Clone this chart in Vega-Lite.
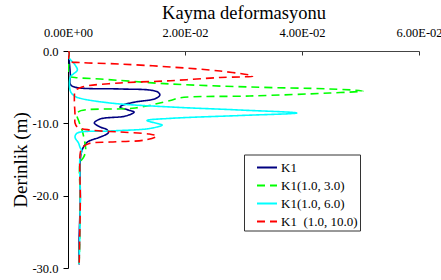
{
  "$schema": "https://vega.github.io/schema/vega-lite/v6.json",
  "autosize": "none",
  "width": 351,
  "height": 217,
  "padding": {"left": 68, "top": 51, "right": 22, "bottom": 12},
  "background": "white",
  "config": {"view": {"stroke": null}, "font": "Liberation Serif"},
  "data": {"values": [
    {"s":"K1","i":1,"x":0.0001,"d":0},
    {"s":"K1","i":2,"x":0.0002,"d":-1.2},
    {"s":"K1","i":3,"x":0.0004,"d":-3.3},
    {"s":"K1","i":4,"x":0.0004,"d":-4.6},
    {"s":"K1","i":5,"x":0.0012,"d":-5.0},
    {"s":"K1","i":6,"x":0.0089,"d":-5.25},
    {"s":"K1","i":7,"x":0.0140,"d":-5.4},
    {"s":"K1","i":8,"x":0.0154,"d":-5.7},
    {"s":"K1","i":9,"x":0.0157,"d":-6.1},
    {"s":"K1","i":10,"x":0.0149,"d":-6.6},
    {"s":"K1","i":11,"x":0.0115,"d":-7.05},
    {"s":"K1","i":12,"x":0.0093,"d":-7.5},
    {"s":"K1","i":13,"x":0.0089,"d":-7.75},
    {"s":"K1","i":14,"x":0.0103,"d":-8.15},
    {"s":"K1","i":15,"x":0.0113,"d":-8.45},
    {"s":"K1","i":16,"x":0.0098,"d":-9.0},
    {"s":"K1","i":17,"x":0.0055,"d":-9.4},
    {"s":"K1","i":18,"x":0.0045,"d":-9.95},
    {"s":"K1","i":19,"x":0.0055,"d":-10.5},
    {"s":"K1","i":20,"x":0.0067,"d":-10.9},
    {"s":"K1","i":21,"x":0.0069,"d":-11.3},
    {"s":"K1","i":22,"x":0.0055,"d":-11.9},
    {"s":"K1","i":23,"x":0.0033,"d":-12.6},
    {"s":"K1","i":24,"x":0.0024,"d":-13.7},
    {"s":"K1","i":25,"x":0.0021,"d":-15.1},
    {"s":"K1","i":26,"x":0.0021,"d":-20.6},
    {"s":"K1","i":27,"x":0.0019,"d":-26.1},
    {"s":"K1","i":28,"x":0.0019,"d":-29.5},

    {"s":"K1(1.0, 3.0)","i":1,"x":0.0001,"d":0},
    {"s":"K1(1.0, 3.0)","i":2,"x":0.0002,"d":-0.97},
    {"s":"K1(1.0, 3.0)","i":3,"x":0.0002,"d":-3.46},
    {"s":"K1(1.0, 3.0)","i":4,"x":0.0012,"d":-3.66},
    {"s":"K1(1.0, 3.0)","i":5,"x":0.0055,"d":-3.87},
    {"s":"K1(1.0, 3.0)","i":6,"x":0.0175,"d":-4.56},
    {"s":"K1(1.0, 3.0)","i":7,"x":0.0311,"d":-4.98},
    {"s":"K1(1.0, 3.0)","i":8,"x":0.0447,"d":-5.25},
    {"s":"K1(1.0, 3.0)","i":9,"x":0.0504,"d":-5.53},
    {"s":"K1(1.0, 3.0)","i":10,"x":0.0447,"d":-5.81},
    {"s":"K1(1.0, 3.0)","i":11,"x":0.0311,"d":-6.22},
    {"s":"K1(1.0, 3.0)","i":12,"x":0.0192,"d":-6.46},
    {"s":"K1(1.0, 3.0)","i":13,"x":0.0175,"d":-6.84},
    {"s":"K1(1.0, 3.0)","i":14,"x":0.0115,"d":-7.88},
    {"s":"K1(1.0, 3.0)","i":15,"x":0.0016,"d":-8.53},
    {"s":"K1(1.0, 3.0)","i":16,"x":0.0019,"d":-9.82},
    {"s":"K1(1.0, 3.0)","i":17,"x":0.0024,"d":-10.92},
    {"s":"K1(1.0, 3.0)","i":18,"x":0.0028,"d":-12.3},
    {"s":"K1(1.0, 3.0)","i":19,"x":0.0030,"d":-13.27},
    {"s":"K1(1.0, 3.0)","i":20,"x":0.0030,"d":-13.96},
    {"s":"K1(1.0, 3.0)","i":21,"x":0.0026,"d":-14.79},
    {"s":"K1(1.0, 3.0)","i":22,"x":0.0021,"d":-15.35},
    {"s":"K1(1.0, 3.0)","i":23,"x":0.0021,"d":-20.6},
    {"s":"K1(1.0, 3.0)","i":24,"x":0.0020,"d":-26.1},
    {"s":"K1(1.0, 3.0)","i":25,"x":0.0019,"d":-29.45},

    {"s":"K1(1.0, 6.0)","i":1,"x":0.0001,"d":0},
    {"s":"K1(1.0, 6.0)","i":2,"x":0.0002,"d":-0.97},
    {"s":"K1(1.0, 6.0)","i":3,"x":0.0011,"d":-1.8},
    {"s":"K1(1.0, 6.0)","i":4,"x":0.0016,"d":-2.63},
    {"s":"K1(1.0, 6.0)","i":5,"x":0.0009,"d":-3.18},
    {"s":"K1(1.0, 6.0)","i":6,"x":0.0004,"d":-3.59},
    {"s":"K1(1.0, 6.0)","i":7,"x":0.0004,"d":-5.53},
    {"s":"K1(1.0, 6.0)","i":8,"x":0.0011,"d":-6.22},
    {"s":"K1(1.0, 6.0)","i":9,"x":0.0019,"d":-6.5},
    {"s":"K1(1.0, 6.0)","i":10,"x":0.0072,"d":-7.19},
    {"s":"K1(1.0, 6.0)","i":11,"x":0.0175,"d":-7.74},
    {"s":"K1(1.0, 6.0)","i":12,"x":0.0294,"d":-8.16},
    {"s":"K1(1.0, 6.0)","i":13,"x":0.0391,"d":-8.57},
    {"s":"K1(1.0, 6.0)","i":14,"x":0.0294,"d":-8.92},
    {"s":"K1(1.0, 6.0)","i":15,"x":0.0178,"d":-9.3},
    {"s":"K1(1.0, 6.0)","i":16,"x":0.0135,"d":-9.61},
    {"s":"K1(1.0, 6.0)","i":17,"x":0.0149,"d":-9.95},
    {"s":"K1(1.0, 6.0)","i":18,"x":0.0161,"d":-10.23},
    {"s":"K1(1.0, 6.0)","i":19,"x":0.0140,"d":-10.71},
    {"s":"K1(1.0, 6.0)","i":20,"x":0.0072,"d":-11.06},
    {"s":"K1(1.0, 6.0)","i":21,"x":0.0016,"d":-11.34},
    {"s":"K1(1.0, 6.0)","i":22,"x":0.0012,"d":-11.89},
    {"s":"K1(1.0, 6.0)","i":23,"x":0.0018,"d":-12.72},
    {"s":"K1(1.0, 6.0)","i":24,"x":0.0021,"d":-13.41},
    {"s":"K1(1.0, 6.0)","i":25,"x":0.0024,"d":-13.83},
    {"s":"K1(1.0, 6.0)","i":26,"x":0.0021,"d":-14.38},
    {"s":"K1(1.0, 6.0)","i":27,"x":0.0021,"d":-20.6},
    {"s":"K1(1.0, 6.0)","i":28,"x":0.0020,"d":-26.1},
    {"s":"K1(1.0, 6.0)","i":29,"x":0.0019,"d":-29.45},

    {"s":"K1\u00a0 (1.0, 10.0)","i":1,"x":0.0001,"d":0},
    {"s":"K1\u00a0 (1.0, 10.0)","i":2,"x":0.0002,"d":-0.28},
    {"s":"K1\u00a0 (1.0, 10.0)","i":3,"x":0.0002,"d":-1.38},
    {"s":"K1\u00a0 (1.0, 10.0)","i":4,"x":0.0021,"d":-1.59},
    {"s":"K1\u00a0 (1.0, 10.0)","i":5,"x":0.0089,"d":-1.8},
    {"s":"K1\u00a0 (1.0, 10.0)","i":6,"x":0.0175,"d":-2.21},
    {"s":"K1\u00a0 (1.0, 10.0)","i":7,"x":0.0260,"d":-2.77},
    {"s":"K1\u00a0 (1.0, 10.0)","i":8,"x":0.0316,"d":-3.46},
    {"s":"K1\u00a0 (1.0, 10.0)","i":9,"x":0.0260,"d":-3.66},
    {"s":"K1\u00a0 (1.0, 10.0)","i":10,"x":0.0175,"d":-4.11},
    {"s":"K1\u00a0 (1.0, 10.0)","i":11,"x":0.0089,"d":-4.42},
    {"s":"K1\u00a0 (1.0, 10.0)","i":12,"x":0.0024,"d":-4.98},
    {"s":"K1\u00a0 (1.0, 10.0)","i":13,"x":0.0012,"d":-5.53},
    {"s":"K1\u00a0 (1.0, 10.0)","i":14,"x":0.0011,"d":-6.08},
    {"s":"K1\u00a0 (1.0, 10.0)","i":15,"x":0.0011,"d":-7.19},
    {"s":"K1\u00a0 (1.0, 10.0)","i":16,"x":0.0012,"d":-8.85},
    {"s":"K1\u00a0 (1.0, 10.0)","i":17,"x":0.0012,"d":-9.95},
    {"s":"K1\u00a0 (1.0, 10.0)","i":18,"x":0.0016,"d":-10.51},
    {"s":"K1\u00a0 (1.0, 10.0)","i":19,"x":0.0038,"d":-10.92},
    {"s":"K1\u00a0 (1.0, 10.0)","i":20,"x":0.0089,"d":-11.2},
    {"s":"K1\u00a0 (1.0, 10.0)","i":21,"x":0.0139,"d":-11.48},
    {"s":"K1\u00a0 (1.0, 10.0)","i":22,"x":0.0152,"d":-11.75},
    {"s":"K1\u00a0 (1.0, 10.0)","i":23,"x":0.0132,"d":-12.3},
    {"s":"K1\u00a0 (1.0, 10.0)","i":24,"x":0.0072,"d":-12.58},
    {"s":"K1\u00a0 (1.0, 10.0)","i":25,"x":0.0036,"d":-12.79},
    {"s":"K1\u00a0 (1.0, 10.0)","i":26,"x":0.0024,"d":-13.41},
    {"s":"K1\u00a0 (1.0, 10.0)","i":27,"x":0.0021,"d":-14.1},
    {"s":"K1\u00a0 (1.0, 10.0)","i":28,"x":0.0021,"d":-20.6},
    {"s":"K1\u00a0 (1.0, 10.0)","i":29,"x":0.0020,"d":-26.1},
    {"s":"K1\u00a0 (1.0, 10.0)","i":30,"x":0.0019,"d":-29.7}
  ]},
  "mark": {"type": "line", "strokeWidth": 1.6, "interpolate": "catmull-rom", "clip": true},
  "encoding": {
    "x": {
      "field": "x", "type": "quantitative",
      "scale": {"domain": [0, 0.06], "nice": false, "zero": false},
      "axis": {
        "orient": "top", "values": [0, 0.02, 0.04, 0.06], "grid": false,
        "title": "Kayma deformasyonu", "titleFont": "Liberation Serif", "titleFontSize": 18.5,
        "titleFontWeight": "normal", "titleColor": "black", "titleY": -33, "titleBaseline": "alphabetic",
        "labelExpr": "replace(replace(upper(format(datum.value, '.2e')), 'E-', 'E-0'), 'E+', 'E+0')",
        "labelFont": "Liberation Serif", "labelFontSize": 12.5, "labelColor": "black",
        "labelPadding": 16, "tickSize": -4, "tickColor": "#333", "domainColor": "#444",
        "labelFlush": false, "labelOverlap": false
      }
    },
    "y": {
      "field": "d", "type": "quantitative",
      "scale": {"domain": [-30, 0], "nice": false, "zero": false},
      "axis": {
        "orient": "left", "values": [0, -10, -20, -30], "grid": false,
        "title": "Derinlik (m)", "titleFont": "Liberation Serif", "titleFontSize": 19,
        "titleFontWeight": "normal", "titleColor": "black", "titleX": -42, "titleY": 108.5,
        "titleBaseline": "alphabetic", "titleAngle": -90,
        "labelExpr": "(datum.value < 0 ? '-' : '') + format(abs(datum.value), '.1f')",
        "labelFont": "Liberation Serif", "labelFontSize": 12.5, "labelColor": "black",
        "labelPadding": 5, "tickSize": 5, "tickColor": "black", "domainColor": "black",
        "labelFlush": false, "labelOverlap": false
      }
    },
    "order": {"field": "i", "type": "quantitative"},
    "color": {
      "field": "s", "type": "nominal",
      "scale": {"domain": ["K1", "K1(1.0, 3.0)", "K1(1.0, 6.0)", "K1\u00a0 (1.0, 10.0)"], "range": ["#000080", "#00ff00", "#00ffff", "#ff0000"]},
      "legend": {
        "title": null, "orient": "none", "legendX": 176, "legendY": 103.5,
        "direction": "vertical", "padding": 2, "rowPadding": -4.6,
        "strokeColor": "#333", "fillColor": "white",
        "symbolType": "stroke", "symbolSize": 400, "symbolStrokeWidth": 2, "symbolOffset": 10,
        "labelFont": "Liberation Serif", "labelFontSize": 13, "labelColor": "black", "labelOffset": 3, "labelLimit": 200
      }
    },
    "strokeDash": {
      "field": "s", "type": "nominal",
      "scale": {"domain": ["K1", "K1(1.0, 3.0)", "K1(1.0, 6.0)", "K1\u00a0 (1.0, 10.0)"], "range": [[1, 0], [8, 5], [1, 0], [8, 5]]},
      "legend": null
    }
  }
}
